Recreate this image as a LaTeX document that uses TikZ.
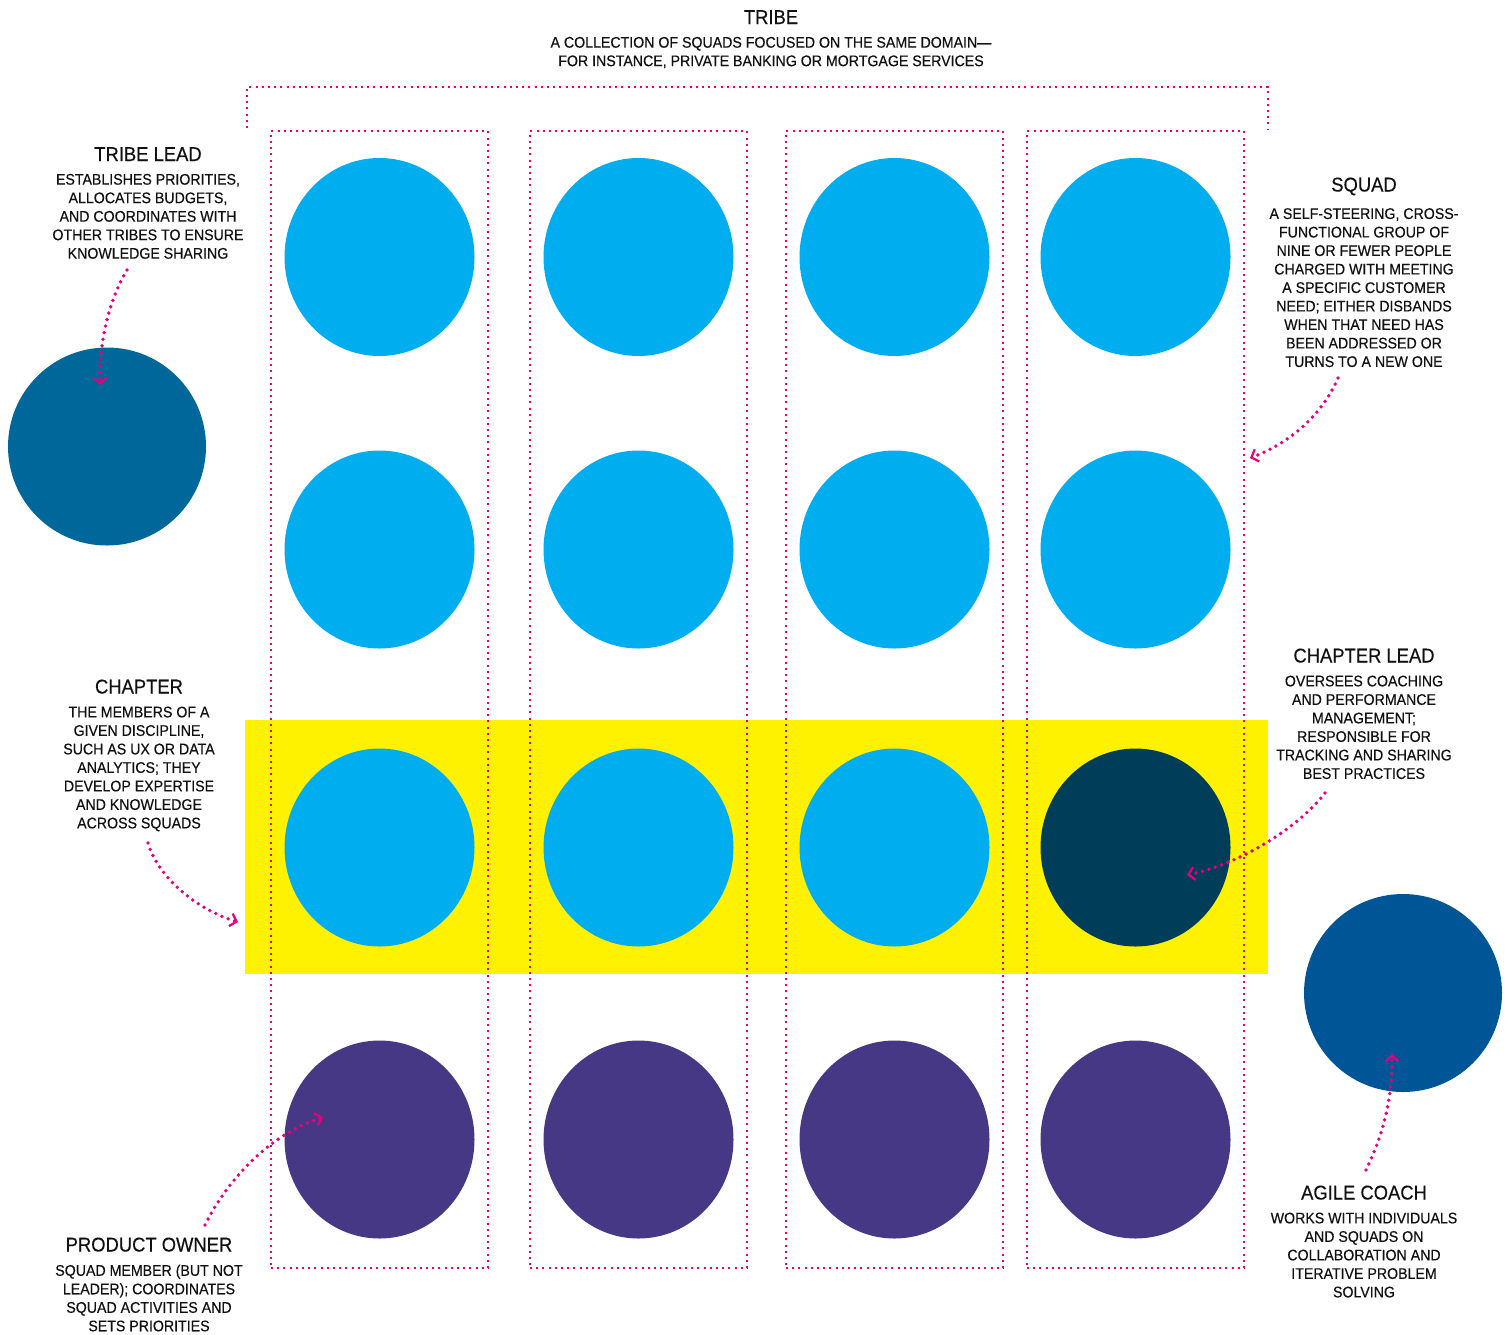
\documentclass[tikz,border=0pt]{standalone}
\usepackage{fontspec}
\setmainfont{Liberation Sans}[FakeStretch=0.92, FakeBold=0.4]
\usetikzlibrary{arrows.meta, positioning, shapes.geometric}
\definecolor{squadblue}{HTML}{00AEEF}
\definecolor{tribeblue}{HTML}{00679A}
\definecolor{chapterdark}{HTML}{003D59}
\definecolor{coachblue}{HTML}{005596}
\definecolor{ownerpurple}{HTML}{463884}
\definecolor{bandyellow}{HTML}{FFF200}
\definecolor{pinkdot}{HTML}{E6007E}
\definecolor{ink}{HTML}{111111}

\begin{document}
\begin{tikzpicture}[
                x=1pt, y=-1pt,
                >={Straight Barb[length=6pt,width=13pt,line width=2.2pt]},
                squad/.style={ellipse, fill=squadblue, minimum width=190pt, minimum height=198pt, inner sep=0pt},
                owner/.style={squad, fill=ownerpurple},
                lead/.style={circle, minimum size=198pt, inner sep=0pt},
                col/.style={draw=pinkdot, line width=2.2pt, dash pattern=on 2pt off 4.2pt, minimum width=217pt, minimum height=1137pt, inner sep=0pt},
                band/.style={fill=bandyellow, minimum width=1023pt, minimum height=254pt, inner sep=0pt},
                tribeline/.style={pinkdot, line width=2.2pt, dash pattern=on 2pt off 4.2pt},
                head/.style={text=ink, font=\fontsize{20}{24}\selectfont, inner sep=0pt, anchor=base},
                body/.style={text=ink, font=\fontsize{15.4}{18.5}\selectfont, align=center, inner sep=0pt},
                callout/.style={pinkdot, line width=3.8pt, line cap=round, dash pattern=on 0pt off 6.7pt, ->}
            ]
                \useasboundingbox (0,0) rectangle (1511,1334);
                % chapter band and squad columns
                \node[band] (band) at (756.5,847) {};
                \draw[tribeline] (247,128) |- (1268,87) -- (1268,130);
                \node[col] (col1) at (379.5,699.5) {};
                \node[col] (col2) at (638.5,699.5) {};
                \node[col] (col3) at (894.5,699.5) {};
                \node[col] (col4) at (1135.5,699.5) {};
                % squad members
                \node[squad] (m11) at (379.5,257) {};
                \node[squad] (m12) at (638.5,257) {};
                \node[squad] (m13) at (894.5,257) {};
                \node[squad] (m14) at (1135.5,257) {};
                \node[squad] (m21) at (379.5,549.5) {};
                \node[squad] (m22) at (638.5,549.5) {};
                \node[squad] (m23) at (894.5,549.5) {};
                \node[squad] (m24) at (1135.5,549.5) {};
                \node[squad] (m31) at (379.5,847.5) {};
                \node[squad] (m32) at (638.5,847.5) {};
                \node[squad] (m33) at (894.5,847.5) {};
                \node[squad, fill=chapterdark] (chlead) at (1135.5,847.5) {};
                \node[owner] (m41) at (379.5,1139.5) {};
                \node[owner] (m42) at (638.5,1139.5) {};
                \node[owner] (m43) at (894.5,1139.5) {};
                \node[owner] (m44) at (1135.5,1139.5) {};
                \node[lead, fill=tribeblue] (tlead) at (107,446.5) {};
                \node[lead, fill=coachblue] (coach) at (1403,993) {};
                % labels
                \node[head] (tribe) at (771,24) {TRIBE};
                \node[body, below=12.5pt of tribe] (tribetxt) {A COLLECTION OF SQUADS FOCUSED ON THE SAME DOMAIN—\\FOR INSTANCE, PRIVATE BANKING OR MORTGAGE SERVICES};
                \node[head] (tl) at (148,161) {TRIBE LEAD};
                \node[body, below=12.5pt of tl] (tltxt) {ESTABLISHES PRIORITIES,\\ALLOCATES BUDGETS,\\AND COORDINATES WITH\\OTHER TRIBES TO ENSURE\\KNOWLEDGE SHARING};
                \node[head] (sq) at (1364,191.5) {SQUAD};
                \node[body, below=12.5pt of sq] (sqtxt) {A SELF-STEERING, CROSS-\\FUNCTIONAL GROUP OF\\NINE OR FEWER PEOPLE\\CHARGED WITH MEETING\\A SPECIFIC CUSTOMER\\NEED; EITHER DISBANDS\\WHEN THAT NEED HAS\\BEEN ADDRESSED OR\\TURNS TO A NEW ONE};
                \node[head] (ch) at (139,693.5) {CHAPTER};
                \node[body, below=12.5pt of ch] (chtxt) {THE MEMBERS OF A\\GIVEN DISCIPLINE,\\SUCH AS UX OR DATA\\ANALYTICS; THEY\\DEVELOP EXPERTISE\\AND KNOWLEDGE\\ACROSS SQUADS};
                \node[head] (cl) at (1364,662.5) {CHAPTER LEAD};
                \node[body, below=12.5pt of cl] (cltxt) {OVERSEES COACHING\\AND PERFORMANCE\\MANAGEMENT;\\RESPONSIBLE FOR\\TRACKING AND SHARING\\BEST PRACTICES};
                \node[head] (po) at (149,1251.5) {PRODUCT OWNER};
                \node[body, below=12.5pt of po] (potxt) {SQUAD MEMBER (BUT NOT\\LEADER); COORDINATES\\SQUAD ACTIVITIES AND\\SETS PRIORITIES};
                \node[head] (ac) at (1364,1199.5) {AGILE COACH};
                \node[body, below=12.5pt of ac] (actxt) {WORKS WITH INDIVIDUALS\\AND SQUADS ON\\COLLABORATION AND\\ITERATIVE PROBLEM\\SOLVING};
                % callouts
                \coordinate (tlfrom) at (127,270);
                \coordinate (tlto) at (100,385);
                \coordinate (sqfrom) at (1338,378);
                \coordinate (sqto) at (1250,458);
                \coordinate (chfrom) at (148,843);
                \coordinate (chto) at (238,922);
                \coordinate (clfrom) at (1325,793);
                \coordinate (clto) at (1187,875);
                \coordinate (pofrom) at (205,1225);
                \coordinate (poto) at (323,1117);
                \coordinate (acfrom) at (1366,1170);
                \coordinate (acto) at (1392,1054);
                \draw[callout] (tlfrom) .. controls (110,298) and (99,340) .. (tlto);
                \draw[callout] (sqfrom) .. controls (1322,415) and (1290,443) .. (sqto);
                \draw[callout] (chfrom) .. controls (158,878) and (198,910) .. (chto);
                \draw[callout] (clfrom) .. controls (1298,828) and (1240,864) .. (clto);
                \draw[callout] (pofrom) .. controls (226,1182) and (268,1135) .. (poto);
                \draw[callout] (acfrom) .. controls (1386,1128) and (1392,1095) .. (acto);
            \end{tikzpicture}
\end{document}
